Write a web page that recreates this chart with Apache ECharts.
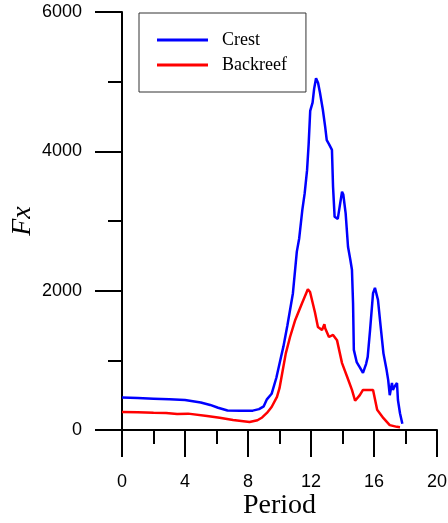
<!DOCTYPE html>
<html>
<head>
<meta charset="utf-8">
<script src="https://cdn.jsdelivr.net/npm/echarts@6/dist/echarts.min.js"></script>
<style>
  html, body { margin: 0; padding: 0; background: #fff; }
  #chart { width: 448px; height: 523px; }
</style>
</head>
<body>
<div id="chart"></div>
<script>
var crestX = [0, 1, 2, 3, 4, 5, 5.6, 6.1, 6.7, 7.5, 8.3, 8.7, 9.0, 9.2, 9.5, 9.8, 10.05, 10.25, 10.5, 10.85,
  11.1, 11.25, 11.45, 11.6, 11.75, 11.85, 11.95, 12.1, 12.2, 12.32, 12.45, 12.57, 12.75, 12.9, 13.0, 13.15,
  13.33, 13.4, 13.5, 13.7, 13.85, 13.97, 14.05, 14.2, 14.35, 14.5, 14.6, 14.67, 14.72, 14.9, 15.1, 15.3,
  15.5, 15.6, 15.75, 15.94, 16.06, 16.25, 16.4, 16.6, 16.8, 16.9, 17.0, 17.14, 17.2, 17.3, 17.46, 17.52,
  17.65, 17.8]
var crestY = [465, 460, 450, 440, 430, 395, 360, 320, 280, 275, 278, 300, 340, 440, 520, 750, 1000, 1200, 1500, 1960,
  2560, 2750, 3160, 3400, 3730, 4100, 4580, 4700, 4900, 5050, 4980, 4840, 4600, 4350, 4160, 4100,
  4020, 3490, 3060, 3030, 3250, 3420, 3380, 3110, 2630, 2440, 2300, 1820, 1150, 975, 900, 820,
  950, 1050, 1435, 1965, 2040, 1870, 1535, 1100, 860, 720, 500, 675, 575, 620, 675, 430,
  240, 90]
var backX = [0, 1, 2, 2.8, 3.5, 4.2, 5.4, 6.2, 7.05, 8.1, 8.6, 8.9, 9.2, 9.5, 9.84, 10.0, 10.2, 10.4, 10.67, 11.0,
  11.43, 11.8, 11.94, 12.25, 12.44, 12.7, 12.85, 12.9, 13.14, 13.4, 13.65, 13.97, 14.3, 14.6, 14.8, 15.1,
  15.3, 15.94, 16.2, 16.6, 17.0, 17.46, 17.65]
var backY = [260, 255, 248, 245, 230, 235, 200, 175, 145, 115, 140, 180, 245, 330, 475, 600, 850, 1100, 1335, 1580,
  1820, 2020, 1980, 1690, 1480, 1435, 1520, 1460, 1335, 1365, 1290, 960, 760, 575, 420, 500,
  575, 575, 290, 170, 70, 45, 40]

function pairs (xs, ys) {
  return xs.map(function (x, i) { return [x, ys[i]] })
}

var myChart = echarts.init(document.getElementById('chart'))
myChart.setOption({
  animation: false,
  grid: {
    left: 122,
    top: 12,
    right: 11,
    bottom: 93,
    containLabel: false,
    outerBoundsMode: 'none'
  },
  legend: {
    orient: 'vertical',
    left: 139,
    top: 13,
    padding: [18, 19, 18, 18],
    itemGap: 7,
    itemWidth: 51,
    itemHeight: 3,
    icon: 'rect',
    borderColor: '#333',
    borderWidth: 1,
    textStyle: {
      fontFamily: 'Liberation Serif',
      fontSize: 18,
      lineHeight: 18,
      color: '#000',
      padding: [0, 0, 0, 9]
    },
    data: ['Crest', 'Backreef']
  },
  xAxis: {
    type: 'value',
    min: 0,
    max: 20,
    interval: 4,
    name: 'Period',
    nameLocation: 'middle',
    nameGap: 62,
    nameMoveOverlap: false,
    nameTextStyle: {
      fontFamily: 'Liberation Serif',
      fontSize: 28,
      color: '#000'
    },
    axisLine: { lineStyle: { color: '#000', width: 2 } },
    axisTick: { inside: false, length: 27, lineStyle: { color: '#000', width: 2 } },
    minorTick: { show: true, splitNumber: 2, length: 14, lineStyle: { color: '#000', width: 2 } },
    splitLine: { show: false },
    axisLabel: {
      margin: 43,
      fontFamily: 'Liberation Sans',
      fontSize: 18,
      color: '#000',
      formatter: function (v) { return String(v) }
    }
  },
  yAxis: {
    type: 'value',
    min: 0,
    max: 6000,
    interval: 2000,
    name: 'Fx',
    nameLocation: 'middle',
    nameGap: 85,
    nameMoveOverlap: false,
    nameRotate: 90,
    nameTextStyle: {
      fontFamily: 'Liberation Serif',
      fontStyle: 'italic',
      fontSize: 28,
      color: '#000'
    },
    axisLine: { show: true, lineStyle: { color: '#000', width: 2 } },
    axisTick: { show: true, inside: false, length: 27, lineStyle: { color: '#000', width: 2 } },
    minorTick: { show: true, splitNumber: 2, length: 14, lineStyle: { color: '#000', width: 2 } },
    splitLine: { show: false },
    axisLabel: {
      margin: 40,
      fontFamily: 'Liberation Sans',
      fontSize: 18,
      color: '#000',
      formatter: function (v) { return String(v) }
    }
  },
  series: [
    {
      name: 'Crest',
      type: 'line',
      symbol: 'none',
      color: '#0000ff',
      lineStyle: { width: 2.5 },
      data: pairs(crestX, crestY)
    },
    {
      name: 'Backreef',
      type: 'line',
      symbol: 'none',
      color: '#ff0000',
      lineStyle: { width: 2.5 },
      data: pairs(backX, backY)
    }
  ]
})
</script>
</body>
</html>
